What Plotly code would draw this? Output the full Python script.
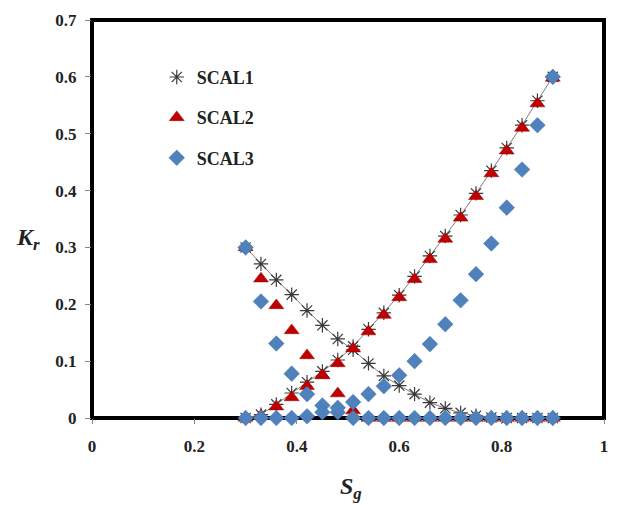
import plotly.graph_objects as go

Sg = [0.30, 0.33, 0.36, 0.39, 0.42, 0.45, 0.48, 0.51, 0.54, 0.57, 0.60,
      0.63, 0.66, 0.69, 0.72, 0.75, 0.78, 0.81, 0.84, 0.87, 0.90]

scal1_oil = [0.300, 0.271, 0.243, 0.217, 0.189, 0.163, 0.139, 0.120, 0.096, 0.074, 0.057,
             0.042, 0.027, 0.017, 0.009, 0.004, 0.001, 0.0, 0.0, 0.0, 0.0]
scal1_gas = [0.0, 0.006, 0.024, 0.044, 0.063, 0.082, 0.102, 0.126, 0.156, 0.185, 0.216,
             0.249, 0.285, 0.320, 0.357, 0.395, 0.435, 0.475, 0.515, 0.558, 0.600]

scal2_oil = [0.300, 0.245, 0.198, 0.154, 0.110, 0.075, 0.043, 0.013, 0.0, 0.0, 0.0,
             0.0, 0.0, 0.0, 0.0, 0.0, 0.0, 0.0, 0.0, 0.0, 0.0]
scal2_gas = [0.0, 0.004, 0.020, 0.036, 0.056, 0.075, 0.096, 0.122, 0.152, 0.181, 0.212,
             0.244, 0.279, 0.315, 0.352, 0.390, 0.430, 0.470, 0.510, 0.553, 0.598]

scal3_oil = [0.300, 0.205, 0.131, 0.078, 0.042, 0.022, 0.010, 0.0, 0.0, 0.0, 0.0,
             0.0, 0.0, 0.0, 0.0, 0.0, 0.0, 0.0, 0.0, 0.0, 0.0]
scal3_gas = [0.0, 0.0, 0.0, 0.0, 0.003, 0.010, 0.018, 0.028, 0.042, 0.056, 0.075,
             0.100, 0.130, 0.165, 0.207, 0.253, 0.307, 0.370, 0.437, 0.515, 0.600]

x_ticks = [0, 0.2, 0.4, 0.6, 0.8, 1]
y_ticks = [0, 0.1, 0.2, 0.3, 0.4, 0.5, 0.6, 0.7]

FONT = "Liberation Serif, Times New Roman, serif"
TXT = "#222222"

fig = go.Figure()

# SCAL1: thin gray lines + asterisks
for ys in [scal1_oil, scal1_gas]:
    fig.add_trace(go.Scatter(x=Sg, y=ys, mode="lines", showlegend=False,
                             line=dict(color="#7f7f7f", width=1), cliponaxis=False,
                             hoverinfo="skip"))
for i, ys in enumerate([scal1_oil, scal1_gas]):
    fig.add_trace(go.Scatter(x=Sg, y=ys, mode="markers", name="SCAL1",
                             legendgroup="g1", showlegend=(i == 0),
                             marker=dict(symbol="asterisk-open", size=12, color="#3a3a3a",
                                         line=dict(color="#3a3a3a", width=1.2)),
                             cliponaxis=False))
# SCAL2: red triangles
for i, ys in enumerate([scal2_oil, scal2_gas]):
    fig.add_trace(go.Scatter(x=Sg, y=ys, mode="markers", name="SCAL2",
                             legendgroup="g2", showlegend=(i == 0),
                             marker=dict(symbol="triangle-up", size=13, color="#C00000",
                                         line=dict(color="#9b0000", width=0.5)),
                             cliponaxis=False))
# SCAL3: blue diamonds
for i, ys in enumerate([scal3_oil, scal3_gas]):
    fig.add_trace(go.Scatter(x=Sg, y=ys, mode="markers", name="SCAL3",
                             legendgroup="g3", showlegend=(i == 0),
                             marker=dict(symbol="diamond", size=12, color="#4F81BD",
                                         line=dict(color="#3f6fa8", width=0.5)),
                             cliponaxis=False))

fig.add_shape(type="rect", xref="paper", yref="paper", x0=0, y0=0, x1=1, y1=1,
              line=dict(color="black", width=4), layer="below")

fig.update_layout(
    width=619, height=505,
    margin=dict(l=92, r=11, t=18, b=87),
    paper_bgcolor="white", plot_bgcolor="white",
    font=dict(family=FONT, size=17, color=TXT),
    showlegend=True,
    legend=dict(x=(157 - 92) / 514, y=(418 - 57) / 400, xanchor="left", yanchor="top",
                bgcolor="rgba(0,0,0,0)", borderwidth=0,
                font=dict(family=FONT, size=18, color=TXT, weight="bold"),
                tracegroupgap=14, itemwidth=30, traceorder="grouped"),
    xaxis=dict(range=[0, 1], tickvals=x_ticks, ticktext=[f"{v:g}" for v in x_ticks],
               showgrid=False, zeroline=False, showline=False,
               ticks="outside", ticklen=5, tickcolor="#888888",
               tickfont=dict(family=FONT, size=17, weight="bold", color=TXT),
               ticklabelstandoff=8),
    yaxis=dict(range=[0, 0.7], tickvals=y_ticks, ticktext=[f"{v:g}" for v in y_ticks],
               showgrid=False, zeroline=False, showline=False,
               ticks="outside", ticklen=6, tickcolor="#888888",
               tickfont=dict(family=FONT, size=17, weight="bold", color=TXT),
               ticklabelstandoff=5),
    annotations=[
        dict(text="<b><i>K<sub>r</sub></i></b>", xref="paper", yref="paper",
             x=(28 - 92) / 514, y=(418 - 238) / 400, xanchor="center", yanchor="middle",
             showarrow=False, font=dict(family=FONT, size=24, color=TXT)),
        dict(text="<b><i>S<sub>g</sub></i></b>", xref="paper", yref="paper",
             x=(352 - 92) / 514, y=(418 - 488) / 400, xanchor="center", yanchor="middle",
             showarrow=False, font=dict(family=FONT, size=24, color=TXT)),
    ],
)

fig.write_html("out.html")
